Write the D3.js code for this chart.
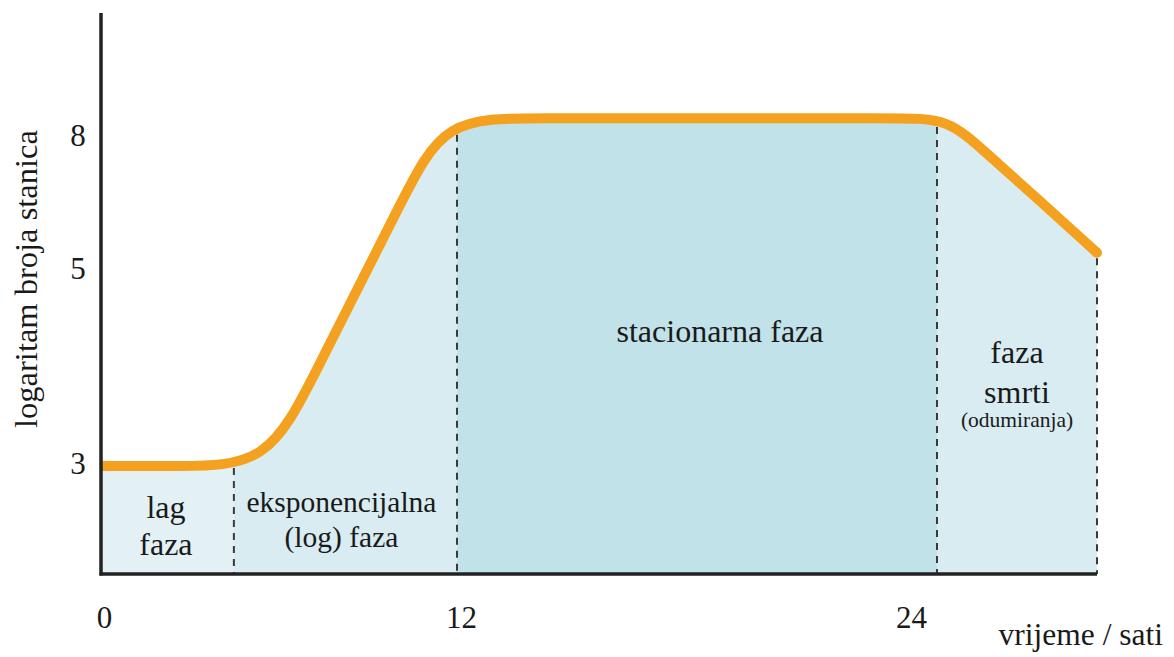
<!DOCTYPE html>
<html>
<head>
<meta charset="utf-8">
<script src="https://cdn.jsdelivr.net/npm/d3@7"></script>
<style>
  html, body { margin: 0; padding: 0; background: #ffffff; }
  svg { display: block; }
  text { font-family: "Liberation Serif", "Times New Roman", serif; fill: #1a1a1a; }
</style>
</head>
<body>
<svg id="chart" width="1174" height="657"></svg>
<script>
// ---- data ----
const xTicks = [0, 12, 24];
const yTicks = [3, 5, 8];
// key points of the schematic growth curve (hours, log cell count)
const time = [0, 2.62, 5.65, 7.16, 10.22, 11.56, 13.925, 18.075, 23.025, 24.275, 25.2, 26.575, 28];
const logCount = [3, 3, 3, 3.89, 6.57, 8.36, 8.36, 8.36, 8.36, 8.36, 7.59, 6.48, 5.30];
const phaseStart = [0, 4.5, 12, 24];
const phaseEnd = [4.5, 12, 24, 28];
const phaseLabels = [["lag", "faza"], ["eksponencijalna", "(log) faza"], ["stacionarna faza"], ["faza", "smrti", "(odumiranja)"]];
const phaseColors = ["#e3f1f5", "#d8ecf1", "#c0e2e8", "#d8ecf1"];
const yTitle = "logaritam broja stanica";
const xTitle = "vrijeme / sati";

// ---- layout ----
const svg = d3.select("#chart");
const axisX = 101, axisTop = 13, axisBottom = 574, axisRight = 1097;

const x = d3.scaleLinear().domain([0, 12, 24, 28]).range([100, 457, 937, 1097]);
const y = d3.scaleLinear().domain([3, 5, 8]).range([466, 266, 134]);

const pts = time.map((t, i) => ({ t: t, v: logCount[i] }));

const defs = svg.append("defs");
phaseStart.forEach((s, i) => {
  defs.append("clipPath").attr("id", "clip" + i)
    .append("rect")
    .attr("x", x(s)).attr("y", 0)
    .attr("width", x(phaseEnd[i]) - x(s)).attr("height", axisBottom);
});

const area = d3.area().x(d => x(d.t)).y0(axisBottom).y1(d => y(d.v)).curve(d3.curveBasis);
const line = d3.line().x(d => x(d.t)).y(d => y(d.v)).curve(d3.curveBasis);

phaseStart.forEach((s, i) => {
  svg.append("path").datum(pts)
    .attr("d", area)
    .attr("fill", phaseColors[i])
    .attr("clip-path", "url(#clip" + i + ")");
});

// helper path to find the curve height at a given pixel x
const linePathNode = svg.append("path").datum(pts).attr("d", line).attr("fill", "none").attr("stroke", "none").node();
function curveYAt(px) {
  const L = linePathNode.getTotalLength();
  let lo = 0, hi = L;
  for (let k = 0; k < 40; k++) {
    const mid = (lo + hi) / 2;
    if (linePathNode.getPointAtLength(mid).x < px) lo = mid; else hi = mid;
  }
  return linePathNode.getPointAtLength(lo).y;
}

// dashed phase boundaries
phaseEnd.forEach((e) => {
  const px = x(e);
  svg.append("line")
    .attr("x1", px).attr("x2", px)
    .attr("y1", curveYAt(Math.min(px, x(28) - 0.5)) + 6).attr("y2", axisBottom)
    .attr("stroke", "#3a3a3a").attr("stroke-width", 2)
    .attr("stroke-dasharray", "7,6");
});

// growth curve
svg.append("path").datum(pts)
  .attr("d", line)
  .attr("fill", "none")
  .attr("stroke", "#f4a11f")
  .attr("stroke-width", 10)
  .attr("stroke-linecap", "butt")
  .attr("stroke-linejoin", "round");
const last = pts[pts.length - 1];
svg.append("circle")
  .attr("cx", x(last.t)).attr("cy", y(last.v)).attr("r", 5)
  .attr("fill", "#f4a11f");

// axes lines
svg.append("line").attr("x1", axisX).attr("x2", axisX).attr("y1", axisTop).attr("y2", axisBottom + 1.5)
  .attr("stroke", "#222").attr("stroke-width", 3.5);
svg.append("line").attr("x1", axisX - 1.5).attr("x2", axisRight).attr("y1", axisBottom).attr("y2", axisBottom)
  .attr("stroke", "#222").attr("stroke-width", 3.5);

// y tick labels
const yAxis = svg.append("g").attr("transform", "translate(78,0)")
  .call(d3.axisLeft(y).tickValues(yTicks).tickSize(0).tickPadding(0).tickFormat(d3.format("d")));
yAxis.select(".domain").remove();
yAxis.selectAll("text")
  .attr("text-anchor", "middle").attr("x", 0).attr("dy", "0.35em")
  .style("font-family", '"Liberation Serif", serif').style("font-size", "31px").style("fill", "#1a1a1a");
yAxis.selectAll("text").filter(d => d === 8).attr("y", 1);
yAxis.selectAll("text").filter(d => d === 5).attr("y", 2);
yAxis.selectAll("text").filter(d => d === 3).attr("y", -3);

// x tick labels
const xOffsets = { 0: 4, 12: 4, 24: -26 };
const xAxis = svg.append("g").attr("transform", "translate(0,628)")
  .call(d3.axisBottom(x).tickValues(xTicks).tickSize(0).tickPadding(0).tickFormat(d3.format("d")));
xAxis.select(".domain").remove();
xAxis.selectAll("text")
  .attr("y", 0).attr("dy", 0)
  .attr("x", d => xOffsets[d])
  .style("font-family", '"Liberation Serif", serif').style("font-size", "31px").style("fill", "#1a1a1a");

// axis titles
svg.append("text")
  .attr("transform", "translate(37,279) rotate(-90)")
  .attr("text-anchor", "middle")
  .style("font-size", "32.5px")
  .text(yTitle);
svg.append("text")
  .attr("x", 1163).attr("y", 645)
  .attr("text-anchor", "end")
  .style("font-size", "31.5px")
  .text(xTitle);

// phase labels
const labelSpecs = [
  { cx: (x(phaseStart[0]) + x(phaseEnd[0])) / 2 - 1, ys: [518, 555], sizes: [32, 32] },
  { cx: (x(phaseStart[1]) + x(phaseEnd[1])) / 2 - 4, ys: [512, 547], sizes: [29.5, 29.5] },
  { cx: (x(phaseStart[2]) + x(phaseEnd[2])) / 2 + 23, ys: [342], sizes: [32] },
  { cx: (x(phaseStart[3]) + x(phaseEnd[3])) / 2, ys: [363, 403, 427], sizes: [32, 32, 21.5] }
];
phaseLabels.forEach((lines, i) => {
  const spec = labelSpecs[i];
  lines.forEach((txt, j) => {
    svg.append("text")
      .attr("x", spec.cx).attr("y", spec.ys[j])
      .attr("text-anchor", "middle")
      .style("font-size", spec.sizes[j] + "px")
      .text(txt);
  });
});
</script>
</body>
</html>
